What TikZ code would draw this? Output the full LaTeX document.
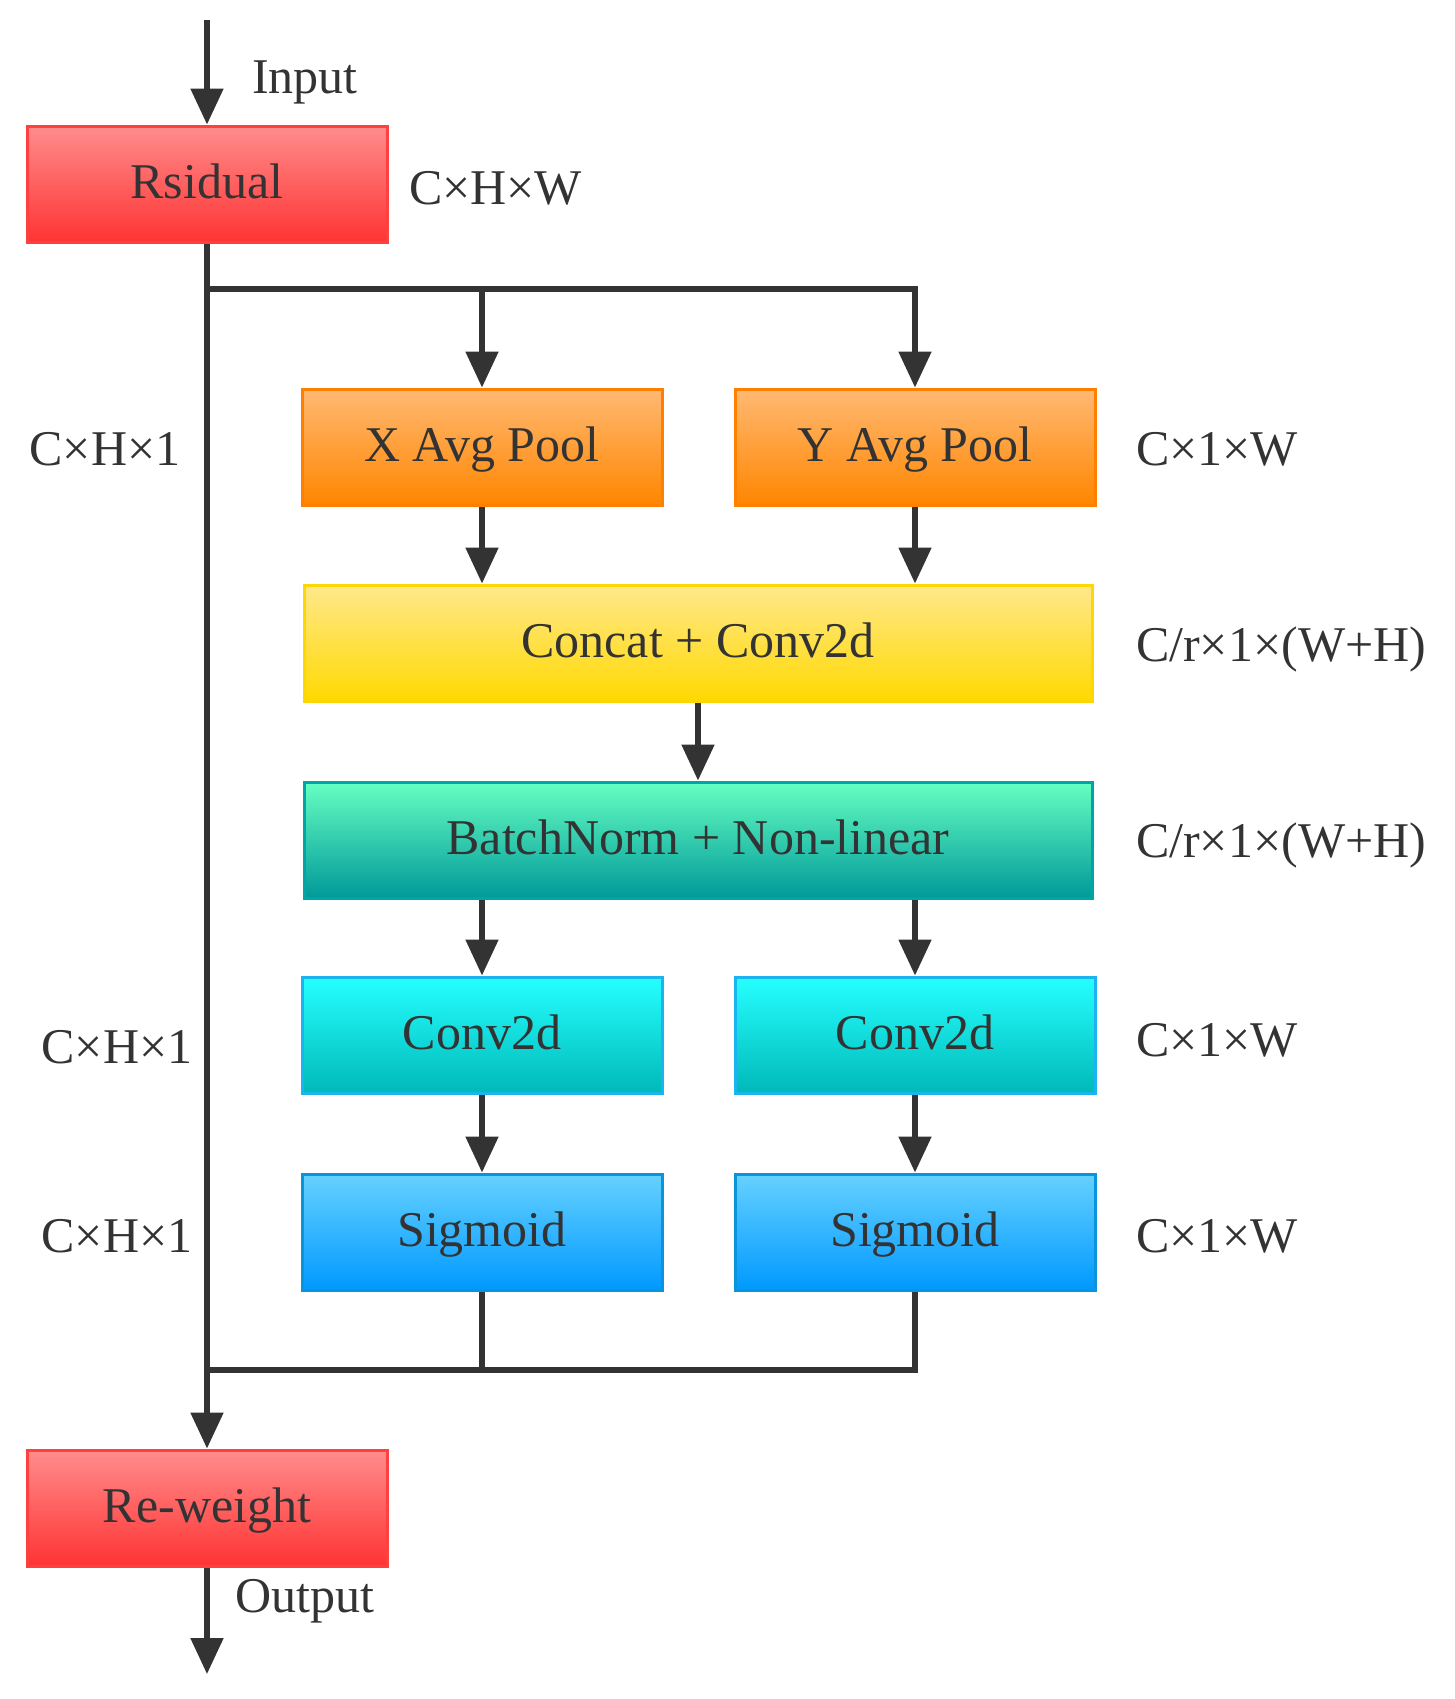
\documentclass[tikz,border=0pt]{standalone}
\usepackage{fontspec}
\setmainfont{Liberation Serif}
\usetikzlibrary{arrows.meta}
\definecolor{ln}{HTML}{333333}
\begin{document}
\begin{tikzpicture}[x=0.5pt,y=-0.5pt,
  txt/.style={font=\fontsize{25}{28}\selectfont,text=ln},
  box/.style={txt,draw,line width=1.5pt,minimum height=58pt,inner sep=0pt,text height=17pt,text depth=3pt},
  small/.style={box,minimum width=180pt},
  wide/.style={box,minimum width=394pt},
  red/.style={top color=red!45!white,bottom color=red!80!white,draw=red!75!white},
  org/.style={top color=orange!55!white,bottom color=orange!95!yellow,draw=orange},
  yel/.style={top color=yellow!60!orange!45!white,bottom color=yellow!70!orange,draw=yellow!75!orange},
  tea/.style={top color=green!40!cyan!60!white,bottom color=teal!80!cyan,draw=teal!70!cyan},
  cya/.style={top color=cyan!85!white,bottom color=cyan!45!teal,draw=cyan!90!white},
  blu/.style={top color=cyan!70!blue!60!white,bottom color=cyan!60!blue,draw=cyan!80!blue},
  arr/.style={draw=ln,line width=2.6pt,-{Triangle[length=18pt,width=16pt]}},
  ln/.style={draw=ln,line width=2.6pt}]
\useasboundingbox (0,0) rectangle (1455,1699);
\node[small,minimum width=180pt,red] (res) at (207,184) {Rsidual};
\node[small,org] (xp) at (482,447) {X Avg Pool};
\node[small,org] (yp) at (915,447) {Y Avg Pool};
\node[wide,yel] (cc) at (698,643) {Concat + Conv2d};
\node[wide,tea] (bn) at (698,840) {BatchNorm + Non-linear};
\node[small,cya] (c1) at (482,1035) {Conv2d};
\node[small,cya] (c2) at (915,1035) {Conv2d};
\node[small,blu] (s1) at (482,1232) {Sigmoid};
\node[small,blu] (s2) at (915,1232) {Sigmoid};
\node[small,red] (rw) at (207,1508) {Re-weight};
\coordinate (in) at (207,20);
\coordinate (out) at (207,1674);
\coordinate (top) at (207,289);
\coordinate (bot) at (207,1370);
\draw[arr] (in) -- (res);
\draw[ln] (res) -- (top) -- (bot);
\draw[arr] (top) -| (xp);
\draw[arr] (top) -| (yp);
\draw[arr] (xp) -- (xp|-cc.north);
\draw[arr] (yp) -- (yp|-cc.north);
\draw[arr] (cc) -- (bn);
\draw[arr] (c1|-bn.south) -- (c1);
\draw[arr] (c2|-bn.south) -- (c2);
\draw[arr] (c1) -- (s1);
\draw[arr] (c2) -- (s2);
\draw[ln] (s1.south) -- (s1|-bot);
\draw[ln] (s2.south) |- (bot);
\draw[arr] (bot) -- (rw);
\draw[arr] (rw) -- (out);
\node[txt,anchor=west] (lin) at (245,82) {Input};
\node[txt,anchor=west] (lout) at (228,1601) {Output};
\node[txt,anchor=west] at (402,188) {C×H×W};
\node[txt] at (105,449) {C×H×1};
\node[txt] at (117,1047) {C×H×1};
\node[txt] at (117,1236) {C×H×1};
\node[txt,anchor=west] at (1129,449) {C×1×W};
\node[txt,anchor=west] at (1129,649) {C/r×1×(W+H)};
\node[txt,anchor=west] at (1129,845) {C/r×1×(W+H)};
\node[txt,anchor=west] at (1129,1040) {C×1×W};
\node[txt,anchor=west] at (1129,1236) {C×1×W};
\end{tikzpicture}
\end{document}
